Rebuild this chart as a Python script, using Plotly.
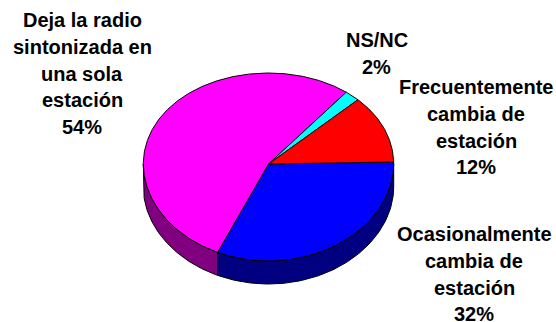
import numpy as np
import plotly.graph_objects as go

# Data, in drawing order (clockwise from the start angle)
categories = ["Ocasionalmente cambia de estación", "Deja la radio sintonizada en una sola estación", "NS/NC", "Frecuentemente cambia de estación"]
values = [32, 54, 2, 12]
top_colors = ["#0000FF", "#FF00FF", "#00FFFF", "#FF0000"]
side_colors = ["#000080", "#800080", "#008080", "#800000"]
label_lines = [
    ["Ocasionalmente", "cambia de", "estación", "32%"],
    ["Deja la radio", "sintonizada en", "una sola", "estación", "54%"],
    ["NS/NC", "2%"],
    ["Frecuentemente", "cambia de", "estación", "12%"],
]
label_x = [474, 82, 376.5, 476]
label_y0 = [234, 20, 40, 87]

W, H = 556, 322
CX, CY = 268.5, 164.0
RX, RY, K = 125.2, 93.9, 0.032
DEPTH = 23.0
START = 1.2
LH = 26.8


def rim(deg, drop=0.0):
    a = np.radians(deg)
    v = np.sin(a)
    return CX + RX * np.cos(a), CY - RY * v / (1 + K * v) + drop


fig = go.Figure()
outline = dict(color="black", width=1)

# Side walls
ang = START
for val, col in zip(values, side_colors):
    a0, a1 = ang, ang - val * 3.6
    ang = a1
    lo, hi = max(a1, -180.0), min(a0, 0.0)
    if lo < hi:
        t = np.linspace(hi, lo, 120)
        x1, y1 = rim(t)
        x2, y2 = rim(t[::-1], DEPTH)
        fig.add_trace(go.Scatter(x=np.r_[x1, x2, x1[0]], y=np.r_[y1, y2, y1[0]],
                                 mode="lines", fill="toself", fillcolor=col,
                                 line=outline, hoverinfo="skip"))

# Top face
ang = START
for val, col, name in zip(values, top_colors, categories):
    a0, a1 = ang, ang - val * 3.6
    ang = a1
    t = np.linspace(a0, a1, max(int(val * 6), 12))
    x, y = rim(t)
    fig.add_trace(go.Scatter(x=np.r_[CX, x, CX], y=np.r_[CY, y, CY],
                             mode="lines", fill="toself", fillcolor=col,
                             line=outline, name=name, hoverinfo="name"))

# Labels
for lines, lx, ly in zip(label_lines, label_x, label_y0):
    for i, txt in enumerate(lines):
        fig.add_annotation(x=lx, y=ly + i * LH, text=txt, showarrow=False,
                           xanchor="center", yanchor="middle",
                           font=dict(family="Liberation Sans", size=20, color="black", weight="bold"))

fig.update_xaxes(range=[0, W], visible=False, fixedrange=True)
fig.update_yaxes(range=[H, 0], visible=False, fixedrange=True)
fig.update_layout(width=W, height=H, margin=dict(l=0, r=0, t=0, b=0), showlegend=False,
                  paper_bgcolor="white", plot_bgcolor="white")
fig.write_html("out.html", config={"displayModeBar": False},
               post_script="document.body.style.margin='0';document.documentElement.style.overflow='hidden';")
